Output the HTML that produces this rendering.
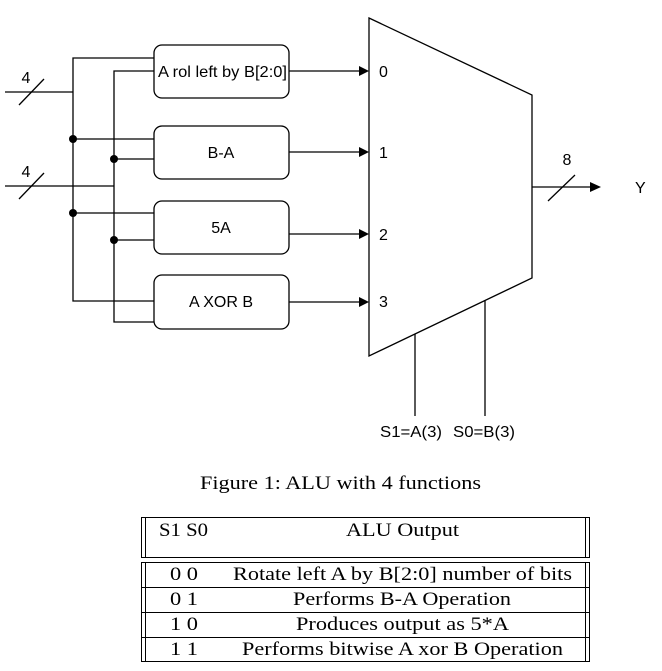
<!DOCTYPE html>
<html><head><style>
body{margin:0;background:#fff;width:662px;height:671px;overflow:hidden;position:relative}
svg{position:absolute;left:0;top:0}
</style></head><body>
<svg width="662" height="671" font-family="Liberation Sans, sans-serif" font-size="16">
<g stroke="#000" stroke-width="1.3" fill="none">
<rect x="154" y="45" width="135" height="53" rx="8"/>
<rect x="154" y="126" width="135" height="53" rx="8"/>
<rect x="154" y="201" width="135" height="53" rx="8"/>
<rect x="154" y="275" width="135" height="54" rx="8"/>
<polyline points="5,92 73,92"/>
<polyline points="154,58 73,58 73,301 154,301"/>
<polyline points="5,186 114,186"/>
<polyline points="154,71 114,71 114,322 154,322"/>
<line x1="73" y1="139" x2="154" y2="139"/>
<line x1="114" y1="159" x2="154" y2="159"/>
<line x1="73" y1="213" x2="154" y2="213"/>
<line x1="114" y1="240" x2="154" y2="240"/>
<line x1="19" y1="105" x2="44" y2="79"/>
<line x1="19" y1="199" x2="44" y2="173"/>
<line x1="289" y1="71" x2="360" y2="71"/>
<line x1="289" y1="152" x2="360" y2="152"/>
<line x1="289" y1="234" x2="360" y2="234"/>
<line x1="289" y1="302" x2="360" y2="302"/>
<polygon points="369,18 532,95 532,278 369,356"/>
<line x1="532" y1="187" x2="590" y2="187"/>
<line x1="548" y1="201" x2="575" y2="175"/>
<line x1="415" y1="334" x2="415" y2="416"/>
<line x1="485" y1="300" x2="485" y2="416"/>
</g>
<g fill="#000">
<circle cx="73" cy="139" r="4"/><circle cx="114" cy="159" r="4"/>
<circle cx="73" cy="213" r="4"/><circle cx="114" cy="240" r="4"/>
<polygon points="359,66 369,71 359,76"/>
<polygon points="359,147 369,152 359,157"/>
<polygon points="359,229 369,234 359,239"/>
<polygon points="359,297 369,302 359,307"/>
<polygon points="590,182 601,187 590,192"/>
<text x="158" y="77" textLength="129" lengthAdjust="spacingAndGlyphs">A rol left by B[2:0]</text>
<text x="221" y="158" text-anchor="middle">B-A</text>
<text x="221" y="233" text-anchor="middle">5A</text>
<text x="221" y="307" text-anchor="middle">A XOR B</text>
<text x="26" y="83" text-anchor="middle">4</text>
<text x="26" y="177" text-anchor="middle">4</text>
<text x="379" y="77">0</text><text x="379" y="158">1</text>
<text x="379" y="240">2</text><text x="379" y="307">3</text>
<text x="567" y="165" text-anchor="middle">8</text>
<text x="635" y="193">Y</text>
<text x="380" y="437" textLength="62" lengthAdjust="spacingAndGlyphs">S1=A(3)</text>
<text x="453" y="437" textLength="62" lengthAdjust="spacingAndGlyphs">S0=B(3)</text>
</g>
<g stroke="#000" stroke-width="1" fill="none">
<rect x="141.5" y="517.5" width="448" height="40"/>
<line x1="145.5" y1="517" x2="145.5" y2="558"/>
<line x1="585.5" y1="517" x2="585.5" y2="558"/>
<rect x="141.5" y="562.5" width="448" height="99"/>
<line x1="145.5" y1="562" x2="145.5" y2="662"/>
<line x1="585.5" y1="562" x2="585.5" y2="662"/>
<line x1="141" y1="587.5" x2="590" y2="587.5"/>
<line x1="141" y1="612.5" x2="590" y2="612.5"/>
<line x1="141" y1="637.5" x2="590" y2="637.5"/>
</g>
<g fill="#000" font-family="Liberation Serif, serif" font-size="19" lengthAdjust="spacingAndGlyphs">
<text x="200" y="489" textLength="281" lengthAdjust="spacingAndGlyphs">Figure 1: ALU with 4 functions</text>
<text x="159" y="536" textLength="49" lengthAdjust="spacingAndGlyphs">S1 S0</text>
<text x="346" y="536" textLength="113" lengthAdjust="spacingAndGlyphs">ALU Output</text>
<text x="170" y="580" textLength="28" lengthAdjust="spacingAndGlyphs">0 0</text>
<text x="233" y="580" textLength="339" lengthAdjust="spacingAndGlyphs">Rotate left A by B[2:0] number of bits</text>
<text x="170" y="605" textLength="28" lengthAdjust="spacingAndGlyphs">0 1</text>
<text x="293" y="605" textLength="218" lengthAdjust="spacingAndGlyphs">Performs B-A Operation</text>
<text x="170" y="630" textLength="28" lengthAdjust="spacingAndGlyphs">1 0</text>
<text x="296" y="630" textLength="213" lengthAdjust="spacingAndGlyphs">Produces output as 5*A</text>
<text x="170" y="655" textLength="28" lengthAdjust="spacingAndGlyphs">1 1</text>
<text x="242" y="655" textLength="321" lengthAdjust="spacingAndGlyphs">Performs bitwise A xor B Operation</text>
</g>
</svg>
</body></html>
